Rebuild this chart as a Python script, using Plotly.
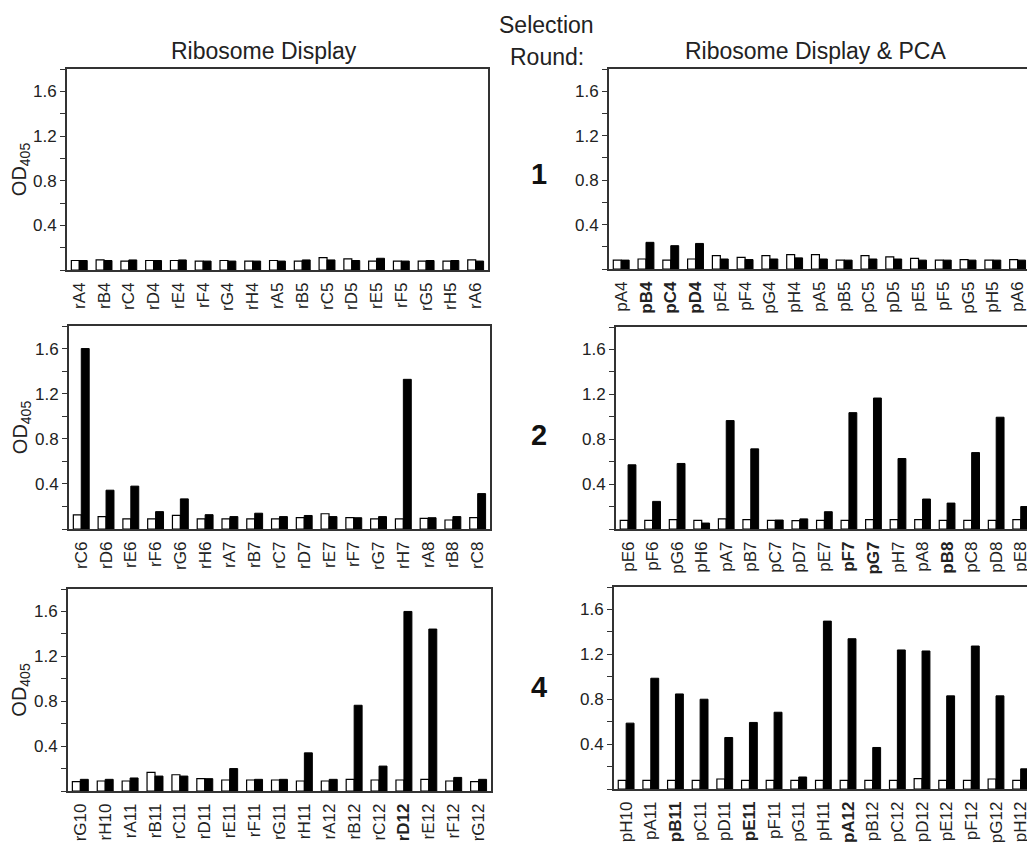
import plotly.graph_objects as go

# ---------------- data ----------------
cats_r1_left = ["rA4", "rB4", "rC4", "rD4", "rE4", "rF4", "rG4", "rH4", "rA5",
                "rB5", "rC5", "rD5", "rE5", "rF5", "rG5", "rH5", "rA6"]
white_r1_left = [0.085, 0.09, 0.08, 0.085, 0.085, 0.08, 0.085, 0.08, 0.085,
                 0.08, 0.11, 0.10, 0.08, 0.08, 0.08, 0.08, 0.09]
black_r1_left = [0.085, 0.085, 0.09, 0.085, 0.09, 0.08, 0.08, 0.08, 0.08,
                 0.09, 0.09, 0.085, 0.105, 0.08, 0.085, 0.085, 0.08]

cats_r1_right = ["pA4", "pB4", "pC4", "pD4", "pE4", "pF4", "pG4", "pH4", "pA5",
                 "pB5", "pC5", "pD5", "pE5", "pF5", "pG5", "pH5", "pA6"]
white_r1_right = [0.08, 0.09, 0.08, 0.09, 0.12, 0.105, 0.12, 0.13, 0.13,
                  0.08, 0.12, 0.11, 0.095, 0.08, 0.085, 0.08, 0.085]
black_r1_right = [0.08, 0.24, 0.21, 0.23, 0.09, 0.085, 0.09, 0.10, 0.09,
                  0.08, 0.09, 0.09, 0.08, 0.08, 0.08, 0.08, 0.08]

cats_r2_left = ["rC6", "rD6", "rE6", "rF6", "rG6", "rH6", "rA7", "rB7", "rC7",
                "rD7", "rE7", "rF7", "rG7", "rH7", "rA8", "rB8", "rC8"]
white_r2_left = [0.125, 0.11, 0.09, 0.09, 0.12, 0.09, 0.09, 0.09, 0.09,
                 0.10, 0.135, 0.10, 0.09, 0.09, 0.095, 0.08, 0.10]
black_r2_left = [1.60, 0.344, 0.38, 0.154, 0.267, 0.127, 0.11, 0.14, 0.11,
                 0.12, 0.11, 0.10, 0.11, 1.327, 0.10, 0.11, 0.314]

cats_r2_right = ["pE6", "pF6", "pG6", "pH6", "pA7", "pB7", "pC7", "pD7", "pE7",
                 "pF7", "pG7", "pH7", "pA8", "pB8", "pC8", "pD8", "pE8"]
white_r2_right = [0.077, 0.077, 0.083, 0.077, 0.09, 0.083, 0.077, 0.074, 0.077,
                  0.077, 0.083, 0.083, 0.083, 0.077, 0.077, 0.077, 0.083]
black_r2_right = [0.572, 0.246, 0.584, 0.053, 0.966, 0.714, 0.08, 0.09, 0.154,
                  1.037, 1.167, 0.628, 0.267, 0.231, 0.681, 0.996, 0.20]

cats_r3_left = ["rG10", "rH10", "rA11", "rB11", "rC11", "rD11", "rE11", "rF11", "rG11",
                "rH11", "rA12", "rB12", "rC12", "rD12", "rE12", "rF12", "rG12"]
white_r3_left = [0.083, 0.089, 0.089, 0.166, 0.145, 0.11, 0.098, 0.098, 0.098,
                 0.089, 0.089, 0.104, 0.098, 0.098, 0.104, 0.089, 0.083]
black_r3_left = [0.104, 0.104, 0.116, 0.133, 0.133, 0.11, 0.20, 0.104, 0.104,
                 0.34, 0.104, 0.764, 0.222, 1.60, 1.443, 0.121, 0.104]

cats_r3_right = ["pH10", "pA11", "pB11", "pC11", "pD11", "pE11", "pF11", "pG11", "pH11",
                 "pA12", "pB12", "pC12", "pD12", "pE12", "pF12", "pG12", "pH12"]
white_r3_right = [0.077, 0.077, 0.077, 0.077, 0.089, 0.077, 0.077, 0.077, 0.077,
                  0.077, 0.077, 0.077, 0.092, 0.077, 0.077, 0.089, 0.077]
black_r3_right = [0.587, 0.987, 0.847, 0.80, 0.459, 0.593, 0.684, 0.107, 1.496,
                  1.339, 0.37, 1.239, 1.23, 0.83, 1.274, 0.83, 0.18]

bold_labels = ["pB4", "pC4", "pD4", "pF7", "pG7", "pB8", "rD12", "pB11", "pE11", "pA12"]

col_titles = ["Ribosome Display", "Ribosome Display & PCA"]
round_labels = ["1", "2", "4"]
y_tick_vals = [0.4, 0.8, 1.2, 1.6]
y_tick_text = ["0.4", "0.8", "1.2", "1.6"]

# ---------------- layout geometry (screen pixels -> paper) ----------------
OFF = 8                     # page body margin
W, H = 1035 - OFF, 849 - OFF
FONT = "Liberation Sans, Arial, sans-serif"
TXT = "#222222"
LINE = "#333333"


def px(X):
    return min(max((X - OFF) / W, 0.0), 1.0)


def py(Y):
    return min(max(1 - (Y - OFF) / H, 0.0), 1.0)


panels = [
    (cats_r1_left, white_r1_left, black_r1_left, (67, 489), (69, 270), True),
    (cats_r1_right, white_r1_right, black_r1_right, (610, 1032), (69, 269), False),
    (cats_r2_left, white_r2_left, black_r2_left, (69, 491), (326, 529), True),
    (cats_r2_right, white_r2_right, black_r2_right, (617, 1039), (327, 529), False),
    (cats_r3_left, white_r3_left, black_r3_left, (68, 492), (589, 791), True),
    (cats_r3_right, white_r3_right, black_r3_right, (615, 1037), (587, 789), False),
]

fig = go.Figure()
layout = dict(
    width=W, height=H,
    margin=dict(l=0, r=0, t=0, b=0),
    paper_bgcolor="white", plot_bgcolor="white",
    barmode="group", bargap=0.36, bargroupgap=0.0,
    showlegend=False,
    font=dict(family=FONT, color=TXT),
)

for i, (cats, wv, bv, (x0, x1), (y0, y1), is_left) in enumerate(panels, start=1):
    xa = "x" if i == 1 else f"x{i}"
    ya = "y" if i == 1 else f"y{i}"
    fig.add_trace(go.Bar(x=cats, y=wv, xaxis=xa, yaxis=ya,
                         marker=dict(color="white", line=dict(color="black", width=1.2)),
                         offsetgroup="w"))
    fig.add_trace(go.Bar(x=cats, y=bv, xaxis=xa, yaxis=ya,
                         marker=dict(color="black", line=dict(color="black", width=1)),
                         offsetgroup="b"))
    ticktext = [f"<b>{c}</b>" if c in bold_labels else c for c in cats]
    xkey = "xaxis" if i == 1 else f"xaxis{i}"
    ykey = "yaxis" if i == 1 else f"yaxis{i}"
    layout[xkey] = dict(
        domain=[px(x0), px(x1)], anchor=ya,
        type="category", range=[-0.5, len(cats) - 0.5],
        tickmode="array", tickvals=cats, ticktext=ticktext,
        tickangle=-90, tickfont=dict(size=17, family=FONT, color=TXT),
        ticks="", ticklabelstandoff=4,
        showline=True, mirror=True, linecolor=LINE, linewidth=1.5,
        showgrid=False, zeroline=False, fixedrange=True,
    )
    yax = dict(
        domain=[py(y1), py(y0)], anchor=xa,
        range=[0, 1.8], tickmode="array", tickvals=y_tick_vals, ticktext=y_tick_text,
        ticks="outside", ticklen=5, tickwidth=1, tickcolor=LINE,
        minor=dict(tick0=0, dtick=0.2, ticks="outside", ticklen=5, tickwidth=1,
                   tickcolor=LINE, showgrid=False),
        tickfont=dict(size=17, family=FONT, color=TXT),
        showline=True, mirror=True, linecolor=LINE, linewidth=1.5,
        showgrid=False, zeroline=False, fixedrange=True,
    )
    if is_left:
        yax["title"] = dict(text="OD<sub>405</sub>", font=dict(size=20, family=FONT, color=TXT),
                            standoff=2)
    layout[ykey] = yax


def ann(X, Y, text, size, color=TXT):
    return dict(x=px(X), y=py(Y), xref="paper", yref="paper", text=text,
                showarrow=False, xanchor="center", yanchor="middle",
                font=dict(size=size, family=FONT, color=color))


annotations = [
    ann(265, 51, col_titles[0], 23),
    ann(817, 51, col_titles[1], 23),
    ann(548, 25, "Selection", 23),
    ann(548, 57, "Round:", 23),
]
for lab, yc in zip(round_labels, [174, 435, 687]):
    annotations.append(ann(540, yc, f"<b>{lab}</b>", 29, "#111111"))
layout["annotations"] = annotations

fig.update_layout(**layout)
fig.write_html("out.html")
